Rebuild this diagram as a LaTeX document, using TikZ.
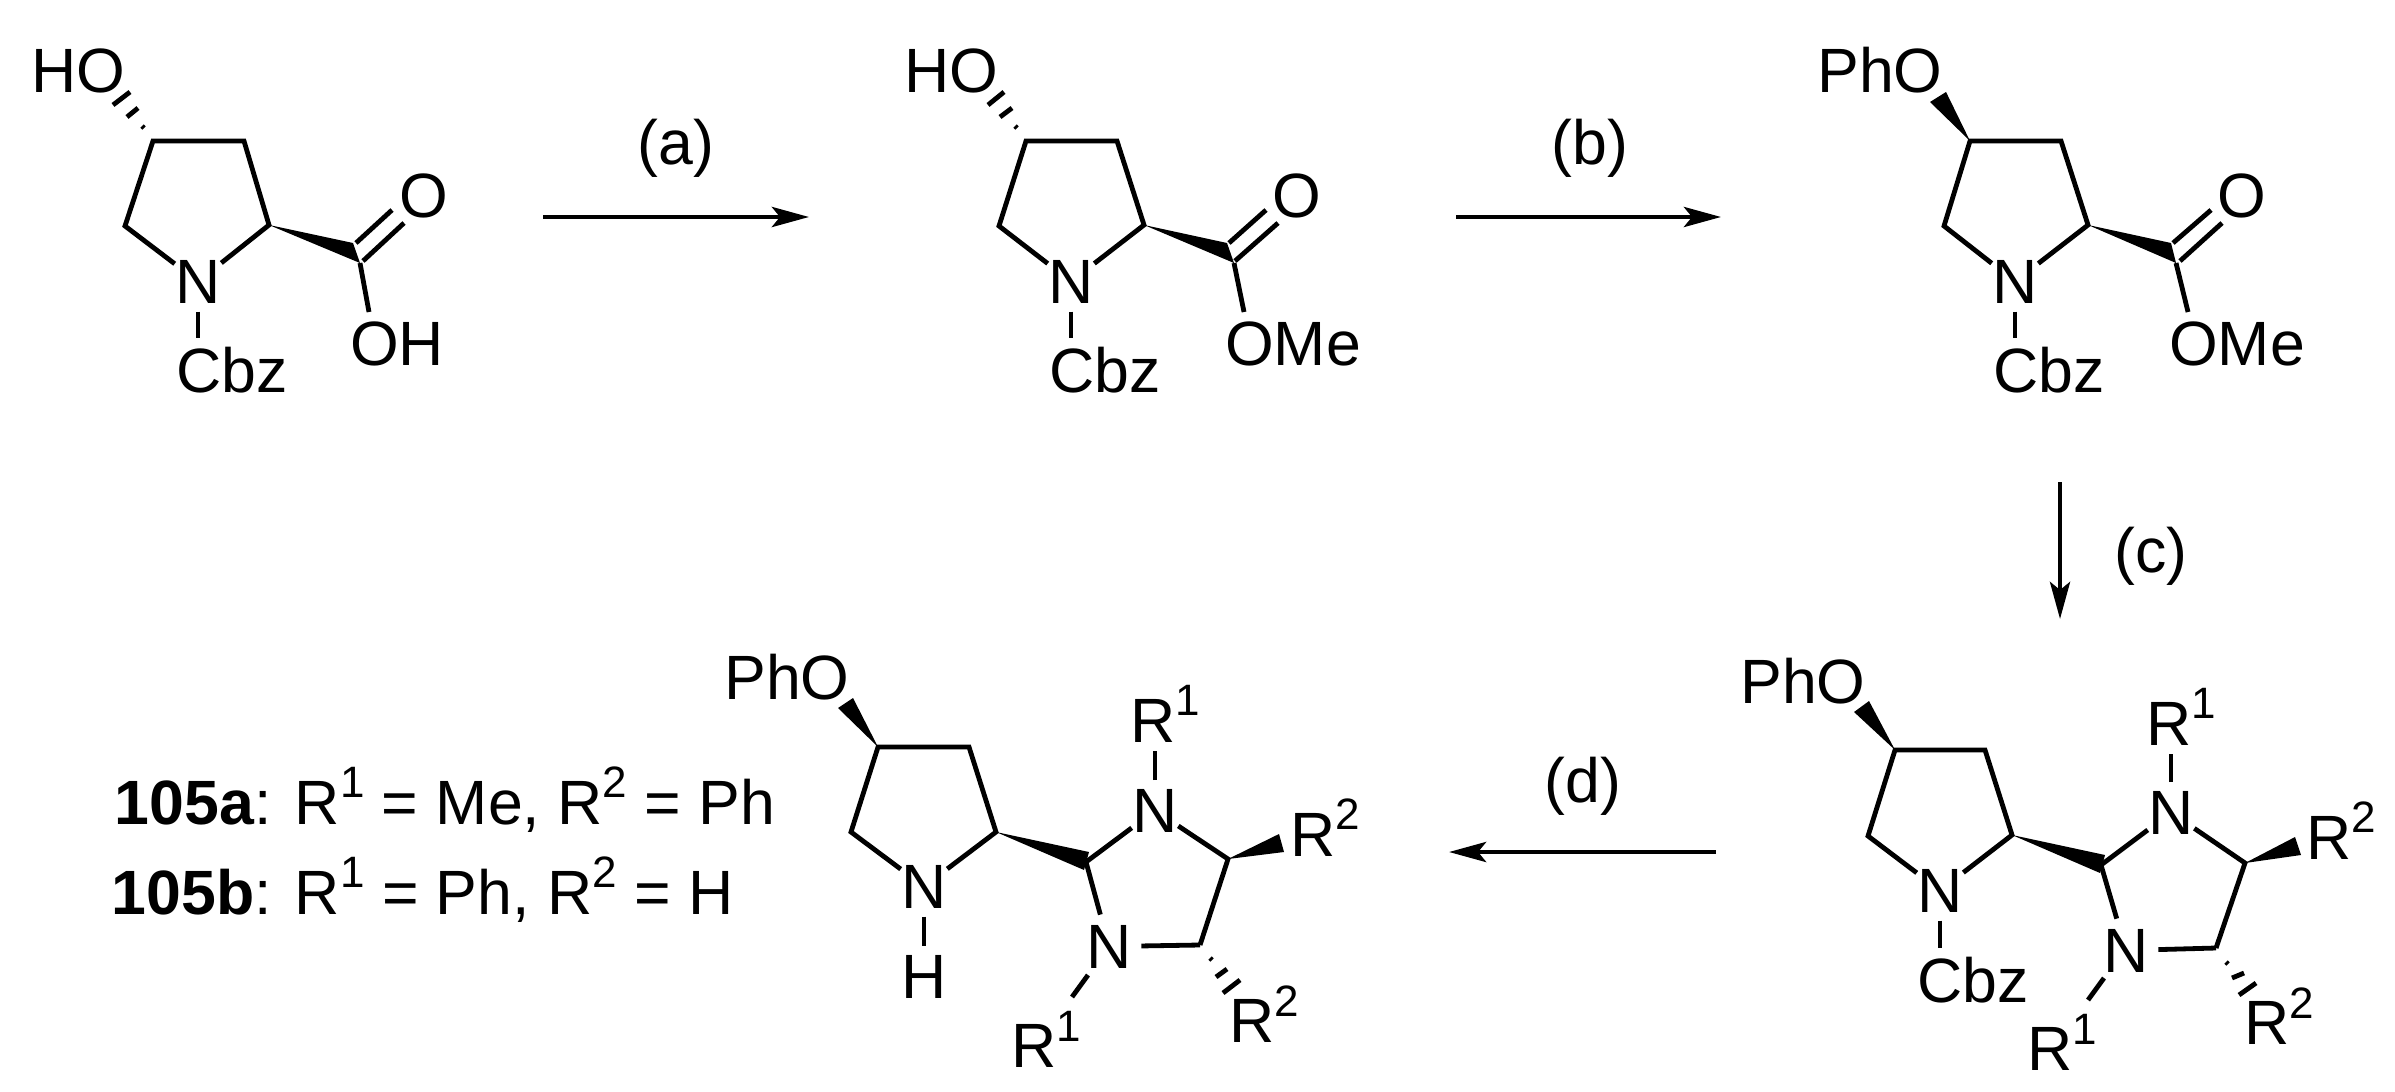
\documentclass[tikz,border=0pt]{standalone}
\usepackage{fontspec}
\setmainfont{Liberation Sans}
\usetikzlibrary{arrows.meta,calc}
\newcommand{\rsup}[1]{\raisebox{.26cm}{\fontsize{12.5}{14}\selectfont #1}}
\tikzset{
	atom/.style={inner sep=0pt,anchor=base,font=\fontsize{17.8}{20}\selectfont},
	legend/.style={atom,anchor=base west},
	bond/.style={line width=.048cm,line join=miter},
	subst/.style={bond,shorten <=.08cm,shorten >=.08cm},
	hash/.style={line width=.048cm},
	wedge/.style={fill=black},
	rxn/.style={line width=.048cm,-{Stealth[length=.37cm,width=.2cm,inset=.08cm]}}
}
\begin{document}
\begin{tikzpicture}[x=.01cm,y=-.01cm]
			\useasboundingbox (0,0) rectangle (2395,1091);
			% acid
			\node[atom] (hoa) at (78,93) {HO};
			\node[atom] (na) at (198,303) {N};
			\node[atom] (cbza) at (232,392) {Cbz};
			\node[atom] (oa) at (424,218) {O};
			\node[atom] (oha) at (397,365) {OH};
			\coordinate (c4a) at (153,141);
			\coordinate (c3a) at (244,141);
			\coordinate (c2a) at (269,225);
			\coordinate (c5a) at (125,226);
			\coordinate (coa) at (360,263);
			\coordinate (d1a) at (356,243);
			\coordinate (d2a) at (392,210);
			\coordinate (d3a) at (363,261);
			\coordinate (d4a) at (404,223);
			\coordinate (e1a) at (369,312);
			\draw[bond] (na) -- (c5a) -- (c4a) -- (c3a) -- (c2a) -- (na);
			\draw[subst] (na.south) -- (na.south |- cbza.north);
			\fill[wedge] (c2a) -- (353,243) -- (coa) -- cycle;
			\draw[bond] (d1a) -- (d2a);
			\draw[bond] (d3a) -- (d4a);
			\draw[bond] (coa) -- (e1a);
			\draw[hash] (144,128) -- (142,126);
			\draw[hash] (127,117) -- (138,108);
			\draw[hash] (113,105) -- (130,92);
			% methyl ester
			\node[atom] (hob) at (951,93) {HO};
			\node[atom] (nb) at (1071,303) {N};
			\node[atom] (cbzb) at (1105,392) {Cbz};
			\node[atom] (ob) at (1297,218) {O};
			\node[atom] (omeb) at (1293,365) {OMe};
			\coordinate (c4b) at (1026,141);
			\coordinate (c3b) at (1117,141);
			\coordinate (c2b) at (1144,225);
			\coordinate (c5b) at (999,226);
			\coordinate (cob) at (1234,263);
			\coordinate (d1b) at (1229,243);
			\coordinate (d2b) at (1266,210);
			\coordinate (d3b) at (1235,261);
			\coordinate (d4b) at (1278,223);
			\coordinate (e1b) at (1244,312);
			\draw[bond] (nb) -- (c5b) -- (c4b) -- (c3b) -- (c2b) -- (nb);
			\draw[subst] (nb.south) -- (nb.south |- cbzb.north);
			\fill[wedge] (c2b) -- (1227,243) -- (cob) -- cycle;
			\draw[bond] (d1b) -- (d2b);
			\draw[bond] (d3b) -- (d4b);
			\draw[bond] (cob) -- (e1b);
			\draw[hash] (1017,128) -- (1015,126);
			\draw[hash] (1000,117) -- (1012,108);
			\draw[hash] (988,105) -- (1004,92);
			% phenyl ether
			\node[atom] (phoc) at (1880,93) {PhO};
			\node[atom] (nc) at (2015,303) {N};
			\node[atom] (cbzc) at (2049,392) {Cbz};
			\node[atom] (oc) at (2242,218) {O};
			\node[atom] (omec) at (2237,365) {OMe};
			\coordinate (c4c) at (1970,141);
			\coordinate (c3c) at (2061,141);
			\coordinate (c2c) at (2088,225);
			\coordinate (c5c) at (1944,226);
			\coordinate (coc) at (2176,263);
			\coordinate (d1c) at (2173,243);
			\coordinate (d2c) at (2211,210);
			\coordinate (d3c) at (2180,261);
			\coordinate (d4c) at (2222,223);
			\coordinate (e1c) at (2188,312);
			\draw[bond] (nc) -- (c5c) -- (c4c) -- (c3c) -- (c2c) -- (nc);
			\draw[subst] (nc.south) -- (nc.south |- cbzc.north);
			\fill[wedge] (c4c) -- (1930,102) -- (1946,92) -- cycle;
			\fill[wedge] (c2c) -- (2171,243) -- (coc) -- cycle;
			\draw[bond] (d1c) -- (d2c);
			\draw[bond] (d3c) -- (d4c);
			\draw[bond] (coc) -- (e1c);
			% protected imidazolidine
			\node[atom] (phod) at (1803,703) {PhO};
			\node[atom] (nd) at (1940,912) {N};
			\node[atom] (cbzd) at (1973,1002) {Cbz};
			\node[atom] (n1d) at (2171,834) {N};
			\node[atom] (n2d) at (2126,972) {N};
			\node[atom] (r1d) at (2181,745) {R\rsup{1}};
			\node[atom] (r2d) at (2341,859) {R\rsup{2}};
			\node[atom] (r3d) at (2062,1070) {R\rsup{1}};
			\node[atom] (r4d) at (2279,1044) {R\rsup{2}};
			\coordinate (c4d) at (1895,750);
			\coordinate (c3d) at (1985,750);
			\coordinate (c2d) at (2012,835);
			\coordinate (c5d) at (1868,836);
			\coordinate (c6d) at (2101,865);
			\coordinate (c7d) at (2245,863);
			\coordinate (c8d) at (2216,948);
			\coordinate (e1d) at (2104,978);
			\coordinate (e2d) at (2088,1000);
			\draw[bond] (nd) -- (c5d) -- (c4d) -- (c3d) -- (c2d) -- (nd);
			\draw[subst] (nd.south) -- (nd.south |- cbzd.north);
			\draw[subst] (n1d.north) -- (n1d.north |- r1d.south);
			\draw[bond] (n1d) -- (c6d);
			\draw[bond] (n1d) -- (c7d) -- (c8d);
			\draw[bond,shorten >=.1cm] (c6d) -- (n2d);
			\draw[bond,shorten <=.09cm] (n2d) -- (c8d);
			\draw[bond] (e1d) -- (e2d);
			\fill[wedge] (c4d) -- (1854,712) -- (1869,701) -- cycle;
			\fill[wedge] (c2d) -- (2105,855) -- (2100,873) -- cycle;
			\fill[wedge] (c7d) -- (2295,837) -- (2301,855) -- cycle;
			\draw[hash] (2228,964) -- (2226,962);
			\draw[hash] (2232,978) -- (2244,973);
			\draw[hash] (2239,995) -- (2256,983);
			% free pyrrolidine
			\node[atom] (phoe) at (787,699) {PhO};
			\node[atom] (ne) at (924,908) {N};
			\node[atom] (he) at (924,998) {H};
			\node[atom] (n1e) at (1155,832) {N};
			\node[atom] (n2e) at (1109,968) {N};
			\node[atom] (r1e) at (1165,742) {R\rsup{1}};
			\node[atom] (r2e) at (1325,856) {R\rsup{2}};
			\node[atom] (r3e) at (1046,1067) {R\rsup{1}};
			\node[atom] (r4e) at (1264,1042) {R\rsup{2}};
			\coordinate (c4e) at (878,747);
			\coordinate (c3e) at (969,747);
			\coordinate (c2e) at (996,832);
			\coordinate (c5e) at (851,832);
			\coordinate (c6e) at (1086,862);
			\coordinate (c7e) at (1228,859);
			\coordinate (c8e) at (1200,945);
			\coordinate (e1e) at (1088,975);
			\coordinate (e2e) at (1072,997);
			\draw[bond] (ne) -- (c5e) -- (c4e) -- (c3e) -- (c2e) -- (ne);
			\draw[subst] (ne) -- (he);
			\draw[subst] (n1e.north) -- (n1e.north |- r1e.south);
			\draw[bond] (n1e) -- (c6e);
			\draw[bond] (n1e) -- (c7e) -- (c8e);
			\draw[bond,shorten >=.1cm] (c6e) -- (n2e);
			\draw[bond,shorten <=.09cm] (n2e) -- (c8e);
			\draw[bond] (e1e) -- (e2e);
			\fill[wedge] (c4e) -- (838,708) -- (853,698) -- cycle;
			\fill[wedge] (c2e) -- (1089,852) -- (1084,870) -- cycle;
			\fill[wedge] (c7e) -- (1279,834) -- (1284,852) -- cycle;
			\draw[hash] (1212,960) -- (1210,958);
			\draw[hash] (1216,977) -- (1227,969);
			\draw[hash] (1223,993) -- (1240,980);
			% legend
			\node[legend] (leg1) at (114,824) {\textbf{105a}: R\rsup{1} = Me, R\rsup{2} = Ph};
			\node[legend] (leg2) at (111,914) {\textbf{105b}: R\rsup{1} = Ph, R\rsup{2} = H};
			% arrows
			\coordinate (a0) at (543,217);
			\coordinate (a1) at (809,217);
			\coordinate (b0) at (1456,217);
			\coordinate (b1) at (1721,217);
			\coordinate (c0) at (2060,482);
			\coordinate (c1) at (2060,619);
			\coordinate (e0) at (1716,852);
			\coordinate (e1) at (1449,852);
			\draw[rxn] (a0) -- (a1);
			\draw[rxn] (b0) -- (b1);
			\draw[rxn] (c0) -- (c1);
			\draw[rxn] (e0) -- (e1);
			\node[atom] (la) at (676,165) {(a)};
			\node[atom] (lb) at (1590,165) {(b)};
			\node[atom] (lc) at (2151,572) {(c)};
			\node[atom] (ld) at (1583,802) {(d)};
\end{tikzpicture}
\end{document}
